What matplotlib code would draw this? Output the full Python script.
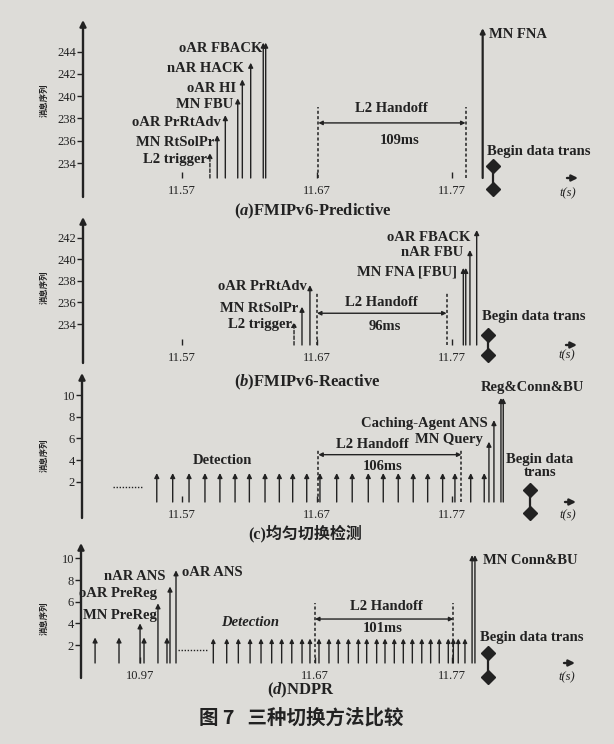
import numpy as np
import matplotlib
matplotlib.use('Agg')
import matplotlib.pyplot as plt

W, H = 614, 744
BG = '#dddcd8'
INK = '#222222'

# ---------------- data ----------------
xtick_vals = [11.57, 11.67, 11.77]
xtick_labels = ['11.57', '11.67', '11.77']
d_xtick_vals = [10.97, 11.67, 11.77]
d_xtick_labels = ['10.97', '11.67', '11.77']
ab_yticks = [234, 236, 238, 240, 242, 244]
b_yticks = [234, 236, 238, 240, 242]
cd_yticks = [2, 4, 6, 8, 10]

# (a) FMIPv6-Predictive
a_labels = ['L2 trigger', 'MN RtSolPr', 'oAR PrRtAdv', 'MN FBU', 'oAR HI',
            'nAR HACK', 'oAR FBACK', 'oAR FBACK', 'MN FNA']
a_times = [11.5907, 11.5961, 11.6021, 11.6113, 11.6147, 11.6209, 11.6302, 11.6320, 11.7927]
a_seq = [234.9, 236.5, 238.3, 239.8, 241.5, 243.0, 244.8, 244.8, 246.1]
a_handoff = [11.671, 11.780]
a_begin = 11.8004

# (b) FMIPv6-Reactive
b_labels = ['L2 trigger', 'MN RtSolPr', 'oAR PrRtAdv', 'MN FNA [FBU]', 'MN FNA [FBU]',
            'nAR FBU', 'oAR FBACK']
b_times = [11.6530, 11.6589, 11.6648, 11.7784, 11.7802, 11.7833, 11.7883]
b_seq = [234.2, 235.6, 237.6, 239.2, 239.2, 240.85, 242.7]
b_handoff = [11.670, 11.766]
b_begin = 11.7967

# (c) uniform handoff detection
c_detect_times = [11.5513, 11.5631, 11.5752, 11.5870, 11.5981, 11.6093, 11.6199, 11.6315,
                  11.6421, 11.6520, 11.6624, 11.6722, 11.6846, 11.6961, 11.7080, 11.7191,
                  11.7302, 11.7413, 11.7520, 11.7631, 11.7722, 11.7839, 11.7939]
c_detect_seq = 2.8
c_labels = ['MN Query', 'Caching-Agent ANS', 'Reg&Conn&BU', 'Reg&Conn&BU']
c_times = [11.7974, 11.8011, 11.8063, 11.8080]
c_seq = [5.7, 7.7, 9.75, 9.75]
c_handoff = [11.671, 11.777]
c_begin = 11.8278

# (d) NDPR
d_pre_times = [10.9371, 10.9546, 10.9729, 10.9897]
d_pre_seq = 2.7
d_labels = ['MN PreReg', 'oAR PreReg', 'nAR ANS', 'oAR ANS']
d_times = [10.9700, 10.9831, 10.9919, 10.9963]
d_seq = [4.0, 5.85, 7.4, 8.9]
d_detect_times = [11.5956, 11.6054, 11.6139, 11.6225, 11.6305, 11.6383, 11.6456, 11.6530,
                  11.6605, 11.6663, 11.6729, 11.6802, 11.6870, 11.6944, 11.7017, 11.7078,
                  11.7151, 11.7212, 11.7280, 11.7346, 11.7412, 11.7481, 11.7546, 11.7609,
                  11.7675, 11.7712, 11.7748, 11.7797]
d_detect_seq = 2.6
d_conn_labels = ['MN Conn&BU', 'MN Conn&BU']
d_conn_times = [11.7849, 11.7870]
d_conn_seq = [10.3, 10.3]
d_handoff = [11.670, 11.7712]
d_begin = 11.7968

# ---------------- style ----------------
plt.rcParams['font.family'] = ['Liberation Serif', 'Noto Sans CJK SC']
plt.rcParams['mathtext.fontset'] = 'custom'
plt.rcParams['mathtext.it'] = 'Liberation Serif:italic:bold'
plt.rcParams['mathtext.rm'] = 'Liberation Serif:bold'
plt.rcParams['text.color'] = INK

fig = plt.figure(figsize=(W / 100, H / 100), dpi=100, facecolor=BG)

LBL = dict(size=10.5, weight='bold')


def px_axes(left, right, top, bottom):
    ax = fig.add_axes([left / W, 1 - bottom / H, (right - left) / W, (bottom - top) / H])
    ax.set_facecolor('none')
    for s in ax.spines.values():
        s.set_visible(False)
    return ax


def ftext(x, y, s, ha='center', va='center', size=10.5, weight='bold', **kw):
    fig.text(x / W, 1 - y / H, s, ha=ha, va=va, fontsize=size, weight=weight,
             color=INK, **kw)


def stem(ax, t, top, base, dashed=False, lw=1.0, ms=7):
    ax.annotate('', xy=(t, top), xytext=(t, base),
                arrowprops=dict(arrowstyle='-|>', color=INK, lw=lw, mutation_scale=ms,
                                shrinkA=0, shrinkB=0,
                                linestyle=(0, (2.5, 1.5)) if dashed else '-'),
                annotation_clip=False)


def frame(ax, hpx, below_px, left_px=11):
    ax.annotate('', xy=(1, 0), xycoords='axes fraction',
                xytext=(-left_px, 0), textcoords='offset pixels',
                arrowprops=dict(arrowstyle='-|>', color=INK, lw=1.7, mutation_scale=9,
                                shrinkA=0, shrinkB=0), annotation_clip=False)
    ax.annotate('', xy=(0, 1), xycoords='axes fraction',
                xytext=(0, -(hpx + below_px)), textcoords='offset pixels',
                arrowprops=dict(arrowstyle='-|>', color=INK, lw=1.7, mutation_scale=9,
                                shrinkA=0, shrinkB=0), annotation_clip=False)
    ax.tick_params(axis='x', direction='in', length=4, width=1, pad=5, labelsize=9,
                   colors=INK)
    ax.tick_params(axis='y', direction='out', length=4, width=1, pad=1, labelsize=9,
                   colors=INK)


def handoff(ax, bounds, top, yarrow):
    for t in bounds:
        ax.plot([t, t], [ax.get_ylim()[0], top], ls=(0, (2, 1.5)), lw=1.1, color=INK,
                clip_on=False)
    ax.annotate('', xy=(bounds[1], yarrow), xytext=(bounds[0], yarrow),
                arrowprops=dict(arrowstyle='<|-|>', color=INK, lw=1.0, mutation_scale=6,
                                shrinkA=0, shrinkB=0), annotation_clip=False)


def begin(ax, t, y1, y2):
    ax.plot([t, t], [y1, y2], '-', color=INK, lw=1.6, clip_on=False)
    ax.plot([t, t], [y1, y2], 'D', color=INK, ms=7, clip_on=False)


# ---------------- (a) ----------------
axa = px_axes(83, 578, 20, 178)
axa.set_xlim(11.4967, 11.8633)
axa.set_ylim(232.66, 246.83)
frame(axa, 158, 19)
axa.set_xticks(xtick_vals, xtick_labels)
axa.set_yticks(ab_yticks, [str(v) for v in ab_yticks])
base = axa.get_ylim()[0]
for lab, t, v in zip(a_labels, a_times, a_seq):
    stem(axa, t, v, base, dashed=(lab == 'L2 trigger'), lw=1.6 if lab == 'MN FNA' else 1.0)
handoff(axa, a_handoff, 239.0, 237.6)
begin(axa, a_begin, 233.76, 231.7)

ftext(262, 48, 'oAR FBACK', ha='right')
ftext(244, 68, 'nAR HACK', ha='right')
ftext(236, 88, 'oAR HI', ha='right')
ftext(233, 105, 'MN FBU', ha='right')
ftext(221, 123, 'oAR PrRtAdv', ha='right')
ftext(214, 142, 'MN RtSolPr', ha='right')
ftext(207, 160, 'L2 trigger', ha='right')
ftext(489, 35, 'MN FNA', ha='left')
ftext(391, 108, 'L2 Handoff')
ftext(400, 140, '109ms')
ftext(487, 152, 'Begin data trans', ha='left')
ftext(568, 193, 't(s)', size=9, weight='normal', style='italic')
ftext(313, 211, r'($\mathit{a}$)FMIPv6-Predictive', size=12)

# ---------------- (b) ----------------
axb = px_axes(83, 577, 217, 345)
axb.set_xlim(11.4967, 11.8626)
axb.set_ylim(232.06, 243.91)
frame(axb, 128, 18)
axb.set_xticks(xtick_vals, xtick_labels)
axb.set_yticks(b_yticks, [str(v) for v in b_yticks])
base = axb.get_ylim()[0]
for lab, t, v in zip(b_labels, b_times, b_seq):
    stem(axb, t, v, base, dashed=(lab == 'L2 trigger'))
handoff(axb, b_handoff, 236.9, 235.0)
begin(axb, b_begin, 233.0, 231.1)

ftext(307, 287, 'oAR PrRtAdv', ha='right')
ftext(298, 308, 'MN RtSolPr', ha='right')
ftext(292, 325, 'L2 trigger', ha='right')
ftext(470, 237, 'oAR FBACK', ha='right')
ftext(463, 253, 'nAR FBU', ha='right')
ftext(457, 272, 'MN FNA [FBU]', ha='right')
ftext(381, 303, 'L2 Handoff')
ftext(385, 327, '96ms')
ftext(482, 317, 'Begin data trans', ha='left')
ftext(567, 355, 't(s)', size=9, weight='normal', style='italic')
ftext(307, 382, r'($\mathit{b}$)FMIPv6-Reactive', size=12)

# ---------------- (c) ----------------
axc = px_axes(82, 576, 373, 502)
axc.set_xlim(11.4959, 11.8619)
axc.set_ylim(0.12, 12.06)
frame(axc, 129, 16)
axc.set_xticks(xtick_vals, xtick_labels)
axc.set_yticks(cd_yticks, [str(v) for v in cd_yticks])
base = axc.get_ylim()[0]
for t in c_detect_times:
    stem(axc, t, c_detect_seq, base)
for lab, t, v in zip(c_labels, c_times, c_seq):
    stem(axc, t, v, base)
handoff(axc, c_handoff, 5.0, 4.5)
begin(axc, c_begin, 1.24, -0.9)
axc.plot([11.5189, 11.5404], [1.55, 1.55], ls=(0, (1, 1.2)), lw=1.0, color=INK, clip_on=False)

ftext(222, 460, 'Detection')
ftext(372, 445, 'L2 Handoff')
ftext(383, 467, '106ms')
ftext(449, 440, 'MN Query')
ftext(488, 423, 'Caching-Agent ANS', ha='right')
ftext(532, 387, 'Reg&Conn&BU')
ftext(540, 466, 'Begin data\ntrans', linespacing=1.1)
ftext(568, 515, 't(s)', size=9, weight='normal', style='italic')
ftext(305, 533, '(c)均匀切换检测', size=11.5)

# ---------------- (d) ----------------
def fwd(t):
    t = np.asarray(t, dtype=float)
    return np.where(t < 11.0, t + 0.572,
                    np.where(t < 11.59, 11.572 + (t - 11.0) * (0.018 / 0.59), t))


def inv(u):
    u = np.asarray(u, dtype=float)
    return np.where(u < 11.572, u - 0.572,
                    np.where(u < 11.59, 11.0 + (u - 11.572) * (0.59 / 0.018), u))


axd = px_axes(81, 575, 543, 663)
axd.set_xscale('function', functions=(fwd, inv))
axd.set_xlim(10.9268, 11.8602)
axd.set_ylim(0.34, 11.42)
frame(axd, 120, 15)
axd.set_xticks(d_xtick_vals, d_xtick_labels)
axd.set_yticks(cd_yticks, [str(v) for v in cd_yticks])
axd.xaxis.set_minor_locator(matplotlib.ticker.NullLocator())
base = axd.get_ylim()[0]
for t in d_pre_times:
    stem(axd, t, d_pre_seq, base)
for lab, t, v in zip(d_labels, d_times, d_seq):
    stem(axd, t, v, base)
for t in d_detect_times:
    stem(axd, t, d_detect_seq, base, ms=6)
for lab, t, v in zip(d_conn_labels, d_conn_times, d_conn_seq):
    stem(axd, t, v, base)
handoff(axd, d_handoff, 5.85, 4.4)
begin(axd, d_begin, 1.26, -0.95)
axd.plot([10.9978, 11.591], [1.54, 1.54], ls=(0, (1, 1.2)), lw=1.0, color=INK, clip_on=False)

ftext(165, 577, 'nAR ANS', ha='right')
ftext(157, 593, 'oAR PreReg', ha='right')
ftext(157, 615, 'MN PreReg', ha='right')
ftext(182, 572, 'oAR ANS', ha='left')
ftext(250, 623, 'Detection', style='italic')
ftext(386, 607, 'L2 Handoff')
ftext(383, 628, '101ms')
ftext(483, 560, 'MN Conn&BU', ha='left')
ftext(480, 637, 'Begin data trans', ha='left')
ftext(567, 677, 't(s)', size=9, weight='normal', style='italic')
ftext(301, 690, r'($\mathit{d}$)NDPR', size=12)

# y labels
for yy in (100, 287, 455, 618):
    ftext(44, yy, '消息序列', size=6, rotation=90, family='Noto Sans CJK SC')

ftext(301, 718, '图 7   三种切换方法比较', size=14, family='Noto Sans CJK SC')

fig.savefig('out.png', dpi=100, facecolor=BG)
